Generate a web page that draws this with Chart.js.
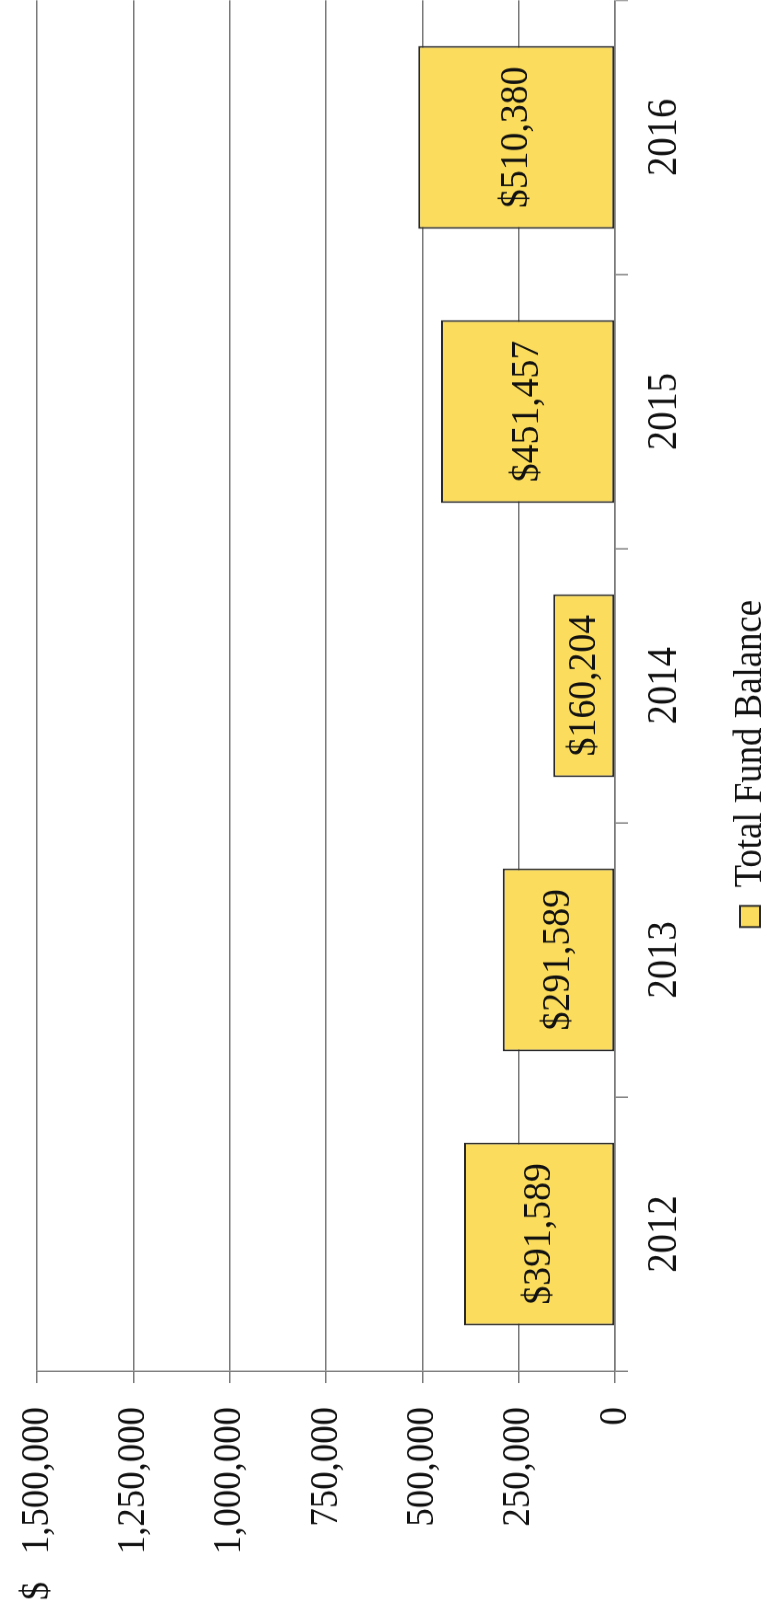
<!DOCTYPE html>
<html>
<head>
<meta charset="utf-8">
<script src="https://cdn.jsdelivr.net/npm/chart.js@4"></script>
<style>
  html, body { margin: 0; padding: 0; background: #fff; }
  body { width: 767px; height: 1614px; overflow: hidden; position: relative; }
  /* the chart is drawn landscape, then turned on its side like the scanned page */
  #wrap {
    position: absolute; left: 0; top: 0;
    width: 1754px; height: 780px;
    transform-origin: 0 0;
    transform: translate(0px, 1614px) rotate(-90deg) scale(0.92, 1);
  }
</style>
</head>
<body>
<div id="wrap"><canvas id="chartCanvas" width="1754" height="780"></canvas></div>
<script>
// Datos
const years = ['2012', '2013', '2014', '2015', '2016'];
const fundBalance = [391589, 291589, 160204, 451457, 510380];
const seriesName = 'Total Fund Balance';
const yMin = 0;
const yMax = 1500000;
const yStep = 250000;

const serif = '"Liberation Serif", "Times New Roman", serif';
const gridGray = '#7a7a7a';

// etiquetas dentro de las barras
const barLabels = {
    id: 'barLabels',
    afterDatasetsDraw(chart) {
        const ctx = chart.ctx;
        const meta = chart.getDatasetMeta(0);
        ctx.save();
        ctx.font = '41px ' + serif;
        ctx.fillStyle = '#111';
        ctx.textAlign = 'center';
        ctx.textBaseline = 'middle';
        meta.data.forEach((bar, i) => {
            const v = chart.data.datasets[0].data[i];
            ctx.fillText('$' + v.toLocaleString('en-US'), bar.x, (bar.y + bar.base) / 2);
        });
        ctx.restore();
    }
};

// la leyenda del original no queda centrada en la hoja recortada
const legendOffset = {
    id: 'legendOffset',
    afterLayout(chart) {
        chart.legend.left += 95;
    }
};

const ctx = document.getElementById('chartCanvas').getContext('2d');
new Chart(ctx, {
    type: 'bar',
    data: {
        labels: years,
        datasets: [{
            label: seriesName,
            data: fundBalance,
            backgroundColor: '#FBDC5C',
            borderColor: '#2a2a2a',
            borderWidth: 2,
            borderSkipped: false,
            barPercentage: 0.667,
            categoryPercentage: 1
        }]
    },
    options: {
        responsive: false,
        animation: false,
        layout: { padding: { left: 0, top: 37, right: 0, bottom: 0 } },
        plugins: {
            tooltip: { enabled: false },
            legend: {
                position: 'bottom',
                labels: {
                    color: '#111',
                    font: { family: serif, size: 40 },
                    boxWidth: 23,
                    boxHeight: 20,
                    padding: 10
                }
            }
        },
        scales: {
            x: {
                grid: {
                    offset: true,
                    drawOnChartArea: false,
                    drawTicks: true,
                    tickLength: 13,
                    color: gridGray,
                    lineWidth: 1.5
                },
                border: { display: true, color: gridGray, width: 1.5 },
                ticks: {
                    color: '#111',
                    font: { family: serif, size: 42 },
                    padding: 12,
                    maxRotation: 0
                },
                afterFit(scale) { scale.height = 105; }
            },
            y: {
                min: yMin,
                max: yMax,
                grid: {
                    color: gridGray,
                    lineWidth: 1.5,
                    drawTicks: true,
                    tickLength: 13
                },
                border: { display: true, color: gridGray, width: 1.5 },
                ticks: {
                    stepSize: yStep,
                    color: '#111',
                    font: { family: serif, size: 40 },
                    padding: 26,
                    callback: function (value) {
                        const s = value.toLocaleString('en-US');
                        return value === yMax ? '$   ' + s : s;
                    }
                },
                afterFit(scale) {
                    scale.width = 264;
                    scale.paddingTop = 0;
                }
            }
        }
    },
    plugins: [barLabels, legendOffset]
});
</script>
</body>
</html>
